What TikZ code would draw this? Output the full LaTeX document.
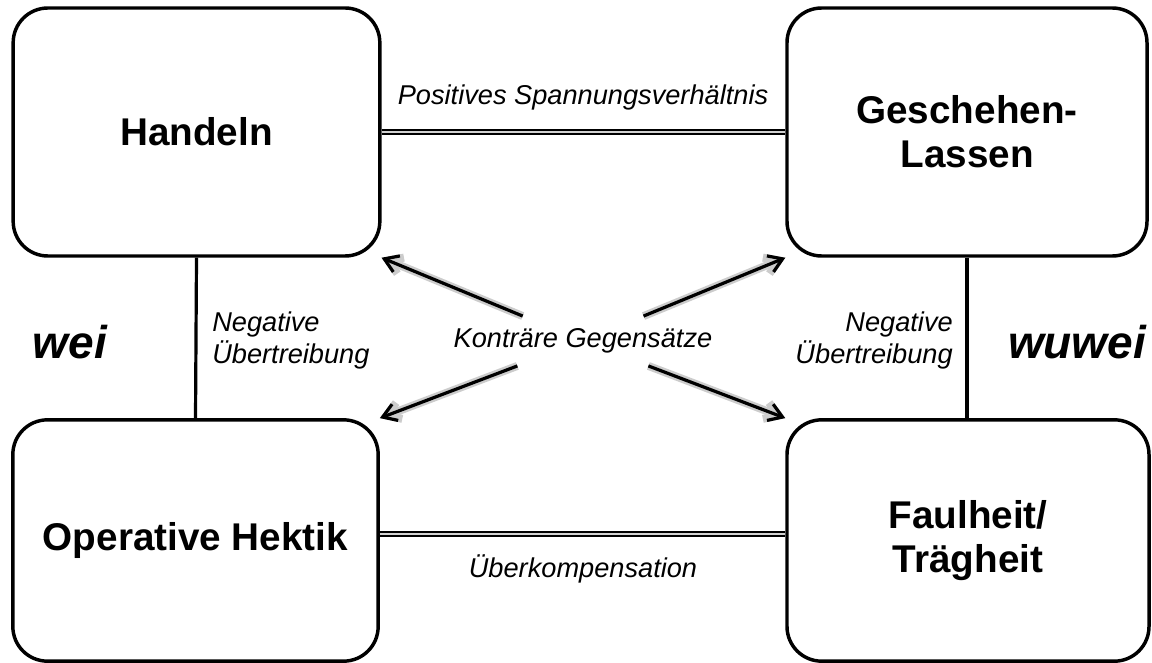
\documentclass[tikz,border=0pt]{standalone}
\usepackage{fontspec}
\setmainfont{Liberation Sans}
\usetikzlibrary{arrows.meta}

\begin{document}
\begin{tikzpicture}[x=0.75pt,y=0.75pt,yscale=-1,xscale=1,
  pole/.style={draw, line width=2.6pt, rounded corners=26pt, align=center, font=\fontsize{29}{33}\selectfont\bfseries},
  link/.style={draw=black, line width=1.4pt, double=gray!35, double distance=2pt},
  vlink/.style={draw=black, line width=2.4pt},
  contrast/.style={line width=2.4pt, -{Straight Barb[length=10pt,width=13pt]}, preaction={draw=gray!40, line width=6pt}},
  lbl/.style={font=\fontsize{20.4}{24}\selectfont\itshape, inner sep=0pt},
  side/.style={font=\fontsize{34.5}{40}\selectfont\bfseries\itshape}]
\useasboundingbox (0,0) rectangle (1152,663);

%Rounded Rect: Handeln
\node[pole, minimum width=275pt, minimum height=186pt] (handeln) at (196.5,132) {Handeln};
%Rounded Rect: Geschehen-Lassen
\node[pole, minimum width=270pt, minimum height=186pt] (lassen) at (967,132) {Geschehen-\\Lassen};
%Rounded Rect: Operative Hektik
\node[pole, minimum width=274pt, minimum height=181pt] (hektik) at (195.5,540.5) {Operative Hektik};
%Rounded Rect: Faulheit
\node[pole, minimum width=271.5pt, minimum height=181pt] (faulheit) at (968,540.5) {Faulheit/\\Trägheit};

%Straight Lines
\draw[link] (handeln.east) -- (lassen.west);
\draw[link] ([yshift=-5pt]hektik.east) -- ([yshift=-5pt]faulheit.west);
\draw[vlink] (handeln.south) -- (hektik.north);
\draw[vlink] (lassen.south) -- (lassen.south |- faulheit.north);

% Text Node
\node[lbl, anchor=base] (spannung) at (583,105) {Positives Spannungsverhältnis};
% Text Node
\node[lbl, anchor=base] (ueberkomp) at (583,577) {Überkompensation};
% Text Node
\node[lbl, anchor=north west, align=left] (negleft) at (212,312) {Negative\\Übertreibung};
% Text Node
\node[lbl, anchor=north east, align=right] (negright) at (953,312) {Negative\\Übertreibung};
% Text Node
\node[lbl, minimum height=37pt] (contra) at (583,341) {Konträre Gegensätze};
% Text Node
\node[side] (wei) at (70,342) {wei};
% Text Node
\node[side] (wuwei) at (1077,342) {wuwei};

%Arrows
\draw[contrast] (contra) -- (handeln.south east);
\draw[contrast] (contra) -- (lassen.south west);
\draw[contrast] (contra) -- (hektik.north east);
\draw[contrast] (contra) -- (faulheit.north west);

\end{tikzpicture}
\end{document}
